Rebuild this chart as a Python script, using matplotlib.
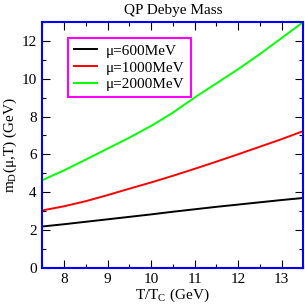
import matplotlib
matplotlib.use("Agg")
import matplotlib.pyplot as plt
from matplotlib.ticker import MultipleLocator

plt.rcParams["font.family"] = ["Liberation Serif", "DejaVu Serif"]
plt.rcParams["mathtext.fontset"] = "custom"
plt.rcParams["mathtext.rm"] = "Liberation Serif"
plt.rcParams["mathtext.it"] = "Liberation Serif"

# values
t_over_tc = [7.5, 8, 8.5, 9, 9.5, 10, 10.5, 11, 11.5, 12, 12.5, 13, 13.5]
md_600 = [2.18, 2.30, 2.43, 2.56, 2.69, 2.82, 2.96, 3.09, 3.22, 3.34, 3.46, 3.58, 3.69]
md_1000 = [3.03, 3.25, 3.52, 3.84, 4.18, 4.51, 4.86, 5.23, 5.61, 6.00, 6.40, 6.80, 7.23]
md_2000 = [4.63, 5.15, 5.72, 6.30, 6.88, 7.50, 8.20, 9.00, 9.75, 10.50, 11.30, 12.15, 13.00]
series_labels = ["\u03bc=600MeV", "\u03bc=1000MeV", "\u03bc=2000MeV"]
series_colors = ["black", "red", "#00ff00"]

fig = plt.figure(figsize=(3.05, 3.05), dpi=100)
ax = fig.add_axes([42.3 / 305, 1 - 267.7 / 305, 261 / 305, 245.7 / 305])

for values, label, color in zip([md_600, md_1000, md_2000], series_labels, series_colors):
    ax.plot(t_over_tc, values, color=color, lw=1.4, label=label)

ax.set_xlim(7.5, 13.5)
ax.set_ylim(0, 13)
ax.xaxis.set_major_locator(MultipleLocator(1))
ax.xaxis.set_minor_locator(MultipleLocator(0.5))
ax.yaxis.set_major_locator(MultipleLocator(2))
ax.yaxis.set_minor_locator(MultipleLocator(1))
ax.tick_params(which="both", direction="in", top=True, right=True, labelsize=11, pad=4)
ax.tick_params(which="major", length=6, width=0.8)
ax.tick_params(which="minor", length=3, width=0.8)

for spine in ax.spines.values():
    spine.set_color("blue")
    spine.set_linewidth(1.5)

ax.set_title("QP Debye Mass", fontsize=11, pad=6)
ax.set_xlabel("T/T$_\\mathrm{C}$ (GeV)", fontsize=11, labelpad=0)
ax.set_ylabel("m$_\\mathrm{D}$(\u03bc,T) (GeV)", fontsize=11, labelpad=2)

legend = ax.legend(loc="upper left", bbox_to_anchor=(0.098, 0.935), borderaxespad=0,
                   fontsize=11, frameon=True, fancybox=False, framealpha=1,
                   handlelength=1.5, borderpad=0.4, labelspacing=0.2, handletextpad=0.6)
legend.get_frame().set_edgecolor("magenta")
legend.get_frame().set_linewidth(1.5)

fig.savefig("out.png", dpi=100)
